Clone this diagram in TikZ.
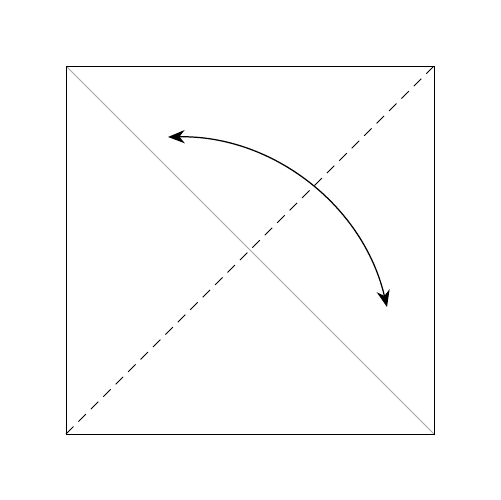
\documentclass[tikz,border=0pt]{standalone}
\usetikzlibrary{arrows.meta}
\begin{document}
\begin{tikzpicture}[x=0.02cm,y=-0.02cm,
  diagA/.style={draw=black!35,line width=0.6pt},
  diagB/.style={draw=black,line width=0.5pt,dash pattern=on 6pt off 4pt},
  swing/.style={draw=black,line width=0.7pt,{Stealth[length=9.5pt,width=7.5pt,inset=3pt]}-{Stealth[length=9.5pt,width=7.5pt,inset=3pt]}}]
\useasboundingbox (0,0) rectangle (500,500);
\coordinate (tl) at (66,66);
\coordinate (tr) at (434,66);
\coordinate (br) at (434,434);
\coordinate (bl) at (66,434);
\coordinate (s) at (168,137);
\coordinate (e) at (387,307);
\draw[diagA] (tl) -- (br);
\draw[diagB] (bl) -- (tr);
\draw[line width=0.45pt] (tl) -- (tr) -- (br) -- (bl) -- cycle;
\draw[swing] (s) .. controls (272,135) and (363,205) .. (e);
\end{tikzpicture}
\end{document}
